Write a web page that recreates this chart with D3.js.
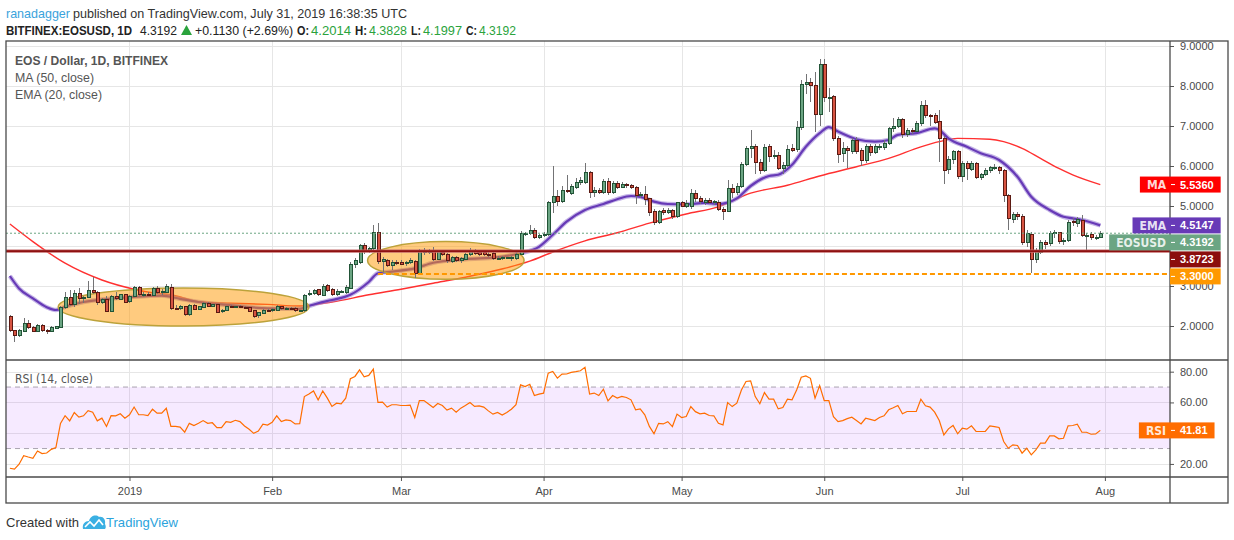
<!DOCTYPE html>
<html>
<head>
<meta charset="utf-8">
<script src="https://d3js.org/d3.v7.min.js"></script>
<style>
  body { margin: 0; background: #fff; }
  svg text { font-family: "Liberation Sans", Arial, sans-serif; }
  .narrow { font-family: "Liberation Sans Narrow", "Arial Narrow", "DejaVu Sans Condensed", sans-serif; }
</style>
</head>
<body>
<svg id="chart" width="1234" height="540"></svg>
<script>
// ---- values ----
// daily candles from 2018-12-06 to 2019-07-31, one line per month
var firstDay = "2018-12-06";

var opens = [
  2.23,1.88,1.76,1.87,2.07,1.96,1.87,2.02,1.88,1.86,1.95,1.97,2.47,2.72,2.54,2.82,2.68,2.72,2.90,2.85,2.59,2.66,2.36,2.75,2.67,2.78,
  2.61,2.75,2.97,2.77,2.80,2.76,2.95,2.83,2.84,2.97,2.45,2.43,2.48,2.28,2.52,2.42,2.47,2.57,2.50,2.53,2.36,2.40,2.48,2.47,2.49,2.46,2.46,2.40,2.26,2.32,2.40,
  2.39,2.40,2.50,2.44,2.45,2.45,2.38,2.38,2.78,2.82,2.92,2.77,3.02,2.92,2.78,2.86,2.84,2.94,3.55,3.58,4.01,3.88,3.94,4.34,3.61,3.63,3.52,3.60,
  3.58,3.56,3.60,3.61,3.32,3.86,3.84,3.86,3.67,3.84,3.78,3.61,3.72,3.64,3.66,3.78,3.90,3.83,3.83,3.80,3.82,3.69,3.69,3.71,3.68,3.68,3.80,4.32,4.32,4.40,4.22,
  4.26,4.28,5.08,5.24,5.11,5.40,5.32,5.46,5.58,5.60,5.84,5.33,5.40,5.33,5.62,5.33,5.57,5.47,5.54,5.52,5.47,5.26,5.30,5.18,4.86,4.59,4.90,4.83,4.90,4.73,
  5.08,4.98,5.00,5.32,5.19,5.10,5.14,5.08,5.10,4.92,4.86,5.44,5.33,5.50,6.03,6.44,6.50,6.08,5.88,6.48,6.27,6.27,5.94,6.02,6.44,6.42,6.97,8.05,8.09,8.02,7.30,
  8.54,7.72,7.73,6.69,6.32,6.43,6.37,6.65,6.40,6.13,6.48,6.34,6.48,6.47,6.57,6.93,7.00,7.17,6.78,6.90,6.86,7.07,7.52,7.27,7.27,7.12,6.69,5.92,6.17,6.36,
  5.75,6.07,5.92,6.07,5.72,5.78,5.88,5.97,5.97,5.88,5.26,4.67,4.80,4.75,4.09,4.30,3.67,3.84,4.09,4.07,4.33,4.33,4.11,4.15,4.62,4.57,4.65,4.26,4.29,4.20,4.2014
];
var highs = [
  2.27,1.91,1.92,2.20,2.16,1.99,2.06,2.04,1.92,1.99,2.01,2.50,2.84,2.90,2.90,2.96,2.76,3.12,3.22,2.88,2.70,2.76,2.78,2.84,2.80,2.80,
  2.77,2.99,2.99,2.84,2.86,2.98,2.99,2.92,3.05,3.05,2.52,2.52,2.50,2.56,2.55,2.50,2.60,2.59,2.56,2.55,2.43,2.50,2.52,2.51,2.52,2.50,2.48,2.41,2.36,2.43,2.42,
  2.44,2.52,2.51,2.47,2.47,2.47,2.41,2.80,2.90,2.92,2.93,3.05,3.06,2.94,2.92,2.90,3.02,3.60,3.70,4.05,4.08,3.98,4.52,4.58,3.72,3.68,3.64,3.66,
  3.65,3.62,3.70,3.64,3.92,3.95,3.92,3.98,3.90,3.88,3.82,3.76,3.75,3.72,3.82,3.94,3.92,3.88,3.86,3.84,3.84,3.74,3.74,3.73,3.74,3.84,4.38,4.36,4.52,4.44,4.30,
  4.34,5.12,6.00,5.40,5.50,5.78,5.56,5.70,5.72,6.07,5.88,5.48,5.46,5.68,5.70,5.62,5.62,5.60,5.58,5.56,5.50,5.36,5.50,5.20,4.92,4.90,4.94,4.94,4.92,5.10,
  5.12,5.14,5.42,5.40,5.24,5.20,5.20,5.16,5.14,4.98,5.66,5.56,5.58,6.10,6.50,6.90,6.56,6.18,6.54,6.54,6.40,6.36,6.10,6.52,6.55,7.12,8.15,8.30,8.20,8.35,8.67,
  8.67,7.95,7.78,6.76,6.60,6.50,6.70,6.72,6.44,6.55,6.56,6.55,6.56,6.65,6.98,7.20,7.22,7.20,6.95,6.96,7.12,7.62,7.65,7.30,7.32,7.40,6.75,6.24,6.40,6.40,
  6.12,6.12,6.12,6.10,5.82,5.95,6.00,6.04,6.00,5.92,5.30,4.86,4.84,4.80,4.40,4.34,3.96,4.16,4.14,4.38,4.40,4.36,4.20,4.64,4.70,4.72,4.78,4.32,4.34,4.28,4.3828
];
var lows = [
  1.85,1.60,1.72,1.85,1.92,1.84,1.85,1.86,1.80,1.84,1.93,1.95,2.42,2.50,2.48,2.55,2.58,2.70,2.80,2.52,2.55,2.34,2.34,2.66,2.64,2.57,
  2.58,2.72,2.76,2.72,2.74,2.74,2.80,2.78,2.82,2.40,2.40,2.40,2.26,2.26,2.40,2.40,2.44,2.47,2.48,2.33,2.33,2.38,2.45,2.44,2.44,2.42,2.36,2.20,2.20,2.30,2.37,
  2.36,2.39,2.41,2.42,2.42,2.36,2.36,2.36,2.76,2.78,2.74,2.76,2.86,2.76,2.75,2.82,2.80,2.92,3.45,3.56,3.80,3.82,3.90,3.55,3.35,3.48,3.40,3.52,
  3.52,3.50,3.56,3.20,3.30,3.78,3.80,3.62,3.64,3.76,3.58,3.58,3.60,3.58,3.64,3.76,3.78,3.76,3.74,3.72,3.66,3.66,3.66,3.68,3.62,3.66,3.78,4.24,4.28,4.18,4.18,
  4.22,4.26,4.82,5.00,5.08,5.32,5.28,5.42,5.52,5.56,5.20,5.22,5.30,5.30,5.28,5.30,5.42,5.44,5.46,5.42,5.05,5.20,5.02,4.74,4.52,4.54,4.78,4.80,4.68,4.70,
  4.98,4.94,4.92,5.10,5.06,5.02,5.04,5.02,4.88,4.66,4.84,5.20,5.28,5.46,6.00,6.20,5.80,5.80,5.84,6.10,6.18,5.90,5.80,5.98,6.36,6.36,6.90,7.80,7.60,6.85,7.00,
  7.60,7.35,6.62,6.07,6.10,5.95,6.30,6.30,6.00,6.08,6.25,6.30,6.40,6.40,6.52,6.85,6.95,6.70,6.72,6.80,6.84,7.00,7.20,7.00,7.05,6.10,5.55,5.80,6.05,5.68,
  5.60,5.65,5.88,5.68,5.66,5.74,5.82,5.90,5.80,5.10,4.40,4.58,4.66,4.02,3.98,3.33,3.58,3.80,3.92,4.00,4.20,4.04,4.02,4.10,4.50,4.48,4.22,3.88,4.16,4.14,4.1997
];
var closes = [
  1.88,1.76,1.88,2.07,1.96,1.87,2.02,1.88,1.86,1.96,1.98,2.47,2.72,2.54,2.82,2.68,2.72,2.88,2.83,2.59,2.66,2.36,2.75,2.68,2.78,2.59,
  2.75,2.97,2.78,2.80,2.76,2.95,2.83,2.86,2.98,2.45,2.43,2.48,2.28,2.52,2.42,2.48,2.57,2.50,2.53,2.35,2.40,2.48,2.47,2.49,2.46,2.44,2.37,2.23,2.34,2.40,2.39,
  2.41,2.50,2.44,2.45,2.44,2.38,2.38,2.77,2.82,2.90,2.79,3.00,2.90,2.78,2.86,2.86,2.97,3.55,3.63,4.01,3.87,3.94,4.34,3.61,3.66,3.52,3.59,3.56,
  3.55,3.60,3.65,3.32,3.86,3.87,3.86,3.67,3.86,3.80,3.63,3.72,3.63,3.68,3.78,3.90,3.82,3.80,3.78,3.78,3.69,3.70,3.72,3.71,3.72,3.80,4.32,4.32,4.40,4.22,4.27,
  4.30,5.09,5.24,5.11,5.40,5.38,5.50,5.58,5.64,5.84,5.33,5.40,5.35,5.62,5.33,5.57,5.47,5.55,5.52,5.46,5.26,5.30,5.17,4.83,4.59,4.86,4.83,4.90,4.73,5.08,
  5.00,5.07,5.32,5.19,5.12,5.14,5.08,5.12,4.92,4.86,5.44,5.33,5.50,6.03,6.44,6.50,6.08,5.88,6.47,6.25,6.27,5.94,6.02,6.42,6.40,6.97,8.05,8.09,8.01,7.30,8.54,
  7.72,7.72,6.69,6.30,6.43,6.38,6.65,6.37,6.13,6.48,6.34,6.48,6.49,6.57,6.93,7.00,7.17,6.78,6.90,6.86,7.07,7.52,7.27,7.26,7.10,6.69,5.88,6.17,6.36,5.75,
  6.07,5.93,6.07,5.72,5.78,5.90,5.97,5.97,5.88,5.26,4.69,4.80,4.74,4.09,4.32,3.67,3.86,4.09,4.05,4.32,4.33,4.11,4.15,4.60,4.58,4.66,4.26,4.26,4.22,4.21,4.3192
];

// RSI (14, close), one value per candle
var rsiValues = [
  17.2,16.6,19.8,25.4,24.5,23.7,28.4,26.7,27.1,29.5,30.6,46.4,51.4,48.0,53.4,50.4,51.3,54.7,53.7,48.0,49.8,44.4,51.4,51.3,52.6,49.8,
  52.0,57.0,52.0,52.0,51.4,55.6,53.0,53.0,56.2,44.4,44.4,44.0,40.7,46.4,45.0,46.4,48.2,46.4,46.8,43.6,43.6,47.5,47.1,48.4,47.5,44.7,42.5,39.9,41.4,45.8,45.3,
  47.1,51.3,47.5,48.6,48.2,46.0,46.2,63.8,65.5,67.5,61.6,67.5,62.8,57.4,59.5,59.1,62.8,75.4,76.9,81.2,76.7,77.6,81.7,60.0,60.2,57.0,58.5,58.5,
  58.0,58.0,58.3,50.2,61.2,61.2,59.0,56.7,59.3,58.0,55.0,56.3,53.7,56.3,58.0,60.0,57.4,57.8,57.0,54.5,52.4,53.5,51.8,53.5,55.6,58.5,71.4,70.3,71.8,64.5,65.4,
  66.0,79.0,80.1,75.8,78.4,78.5,79.5,80.0,80.6,82.8,65.4,66.1,64.5,68.6,61.0,64.5,62.8,63.9,63.2,61.7,55.2,55.8,51.9,44.4,39.6,46.4,46.0,47.5,44.3,52.4,
  50.2,50.8,57.3,54.0,52.6,53.0,51.5,51.3,46.4,45.4,59.9,57.3,59.5,68.1,73.6,74.0,63.8,59.1,66.4,62.1,62.1,55.8,56.7,62.1,61.7,68.1,76.4,77.2,75.7,62.8,71.0,
  61.2,61.2,50.8,47.5,48.2,49.5,50.4,48.2,46.0,49.7,49.0,48.2,50.2,51.3,55.2,56.5,58.0,52.6,54.1,54.1,54.1,62.1,57.8,57.0,53.7,48.2,38.9,42.8,45.0,39.6,
  43.3,42.6,44.8,41.1,41.1,41.1,44.8,44.3,43.7,34.6,30.2,32.4,32.0,27.0,30.2,25.9,29.1,33.5,33.5,38.2,38.2,36.3,36.7,44.8,45.0,45.8,40.6,40.6,39.3,39.5,41.81
];

// MA (50, close) read at sample dates
var maDates = ["2018-12-06","2018-12-11","2018-12-18","2018-12-26","2019-01-02","2019-01-06","2019-01-10","2019-01-16",
  "2019-01-23","2019-01-31","2019-02-07","2019-02-14","2019-02-22","2019-03-01","2019-03-08","2019-03-15","2019-03-22",
  "2019-03-29","2019-04-03","2019-04-10","2019-04-17","2019-04-24","2019-05-02","2019-05-09","2019-05-16","2019-05-24",
  "2019-05-31","2019-06-08","2019-06-15","2019-06-22","2019-06-26","2019-06-30","2019-07-07","2019-07-10","2019-07-14",
  "2019-07-18","2019-07-22","2019-07-25","2019-07-31"];
var maValues = [4.55,4.11,3.57,3.15,2.92,2.83,2.78,2.61,
  2.57,2.54,2.50,2.60,2.78,2.92,3.07,3.22,3.40,
  3.62,3.85,4.13,4.33,4.57,4.80,4.98,5.32,5.52,
  5.75,5.98,6.19,6.48,6.61,6.69,6.67,6.61,6.44,
  6.19,5.94,5.78,5.536];

// EMA (20, close) read at sample dates
var emaDates = ["2018-12-06","2018-12-08","2018-12-11","2018-12-14","2018-12-16","2018-12-18","2018-12-22","2018-12-26",
  "2019-01-02","2019-01-08","2019-01-12","2019-01-16","2019-01-23","2019-01-31","2019-02-07","2019-02-09","2019-02-11",
  "2019-02-14","2019-02-18","2019-02-22","2019-02-24","2019-02-27","2019-03-04","2019-03-08","2019-03-15","2019-03-22",
  "2019-03-27","2019-03-31","2019-04-03","2019-04-06","2019-04-10","2019-04-14","2019-04-17","2019-04-20","2019-04-22",
  "2019-04-25","2019-04-28","2019-05-02","2019-05-06","2019-05-09","2019-05-13","2019-05-16","2019-05-20","2019-05-22",
  "2019-05-25","2019-05-28","2019-05-31","2019-06-02","2019-06-04","2019-06-08","2019-06-12","2019-06-15","2019-06-17",
  "2019-06-21","2019-06-25","2019-06-26","2019-06-28","2019-07-02","2019-07-05","2019-07-09","2019-07-13","2019-07-16",
  "2019-07-20","2019-07-23","2019-07-25","2019-07-27","2019-07-31"];
var emaValues = [3.25,2.94,2.69,2.47,2.40,2.48,2.60,2.66,
  2.73,2.76,2.68,2.60,2.52,2.44,2.43,2.50,2.57,
  2.65,2.78,3.10,3.32,3.36,3.44,3.58,3.67,3.72,
  3.82,3.98,4.28,4.61,4.90,5.05,5.17,5.25,5.23,
  5.11,5.05,5.04,5.08,5.05,5.19,5.50,5.75,5.78,
  6.03,6.48,6.82,6.97,6.86,6.67,6.61,6.65,6.78,
  6.82,6.94,6.90,6.69,6.48,6.32,6.15,5.73,5.23,
  4.90,4.73,4.69,4.65,4.5147];

// axes
var monthTicks = ["2019-01-01","2019-02-01","2019-03-01","2019-04-01","2019-05-01","2019-06-01","2019-07-01","2019-08-01"];
var monthLabels = ["2019","Feb","Mar","Apr","May","Jun","Jul","Aug"];
var priceTicks = [2,3,4,5,6,7,8,9];
var rsiTicks = [20,40,60,80];
var rsiBand = [30,70];

// drawings: two horizontal levels and two highlighted ranges
var resistanceLevel = 3.8723;
var supportLevel = 3.30;
var supportFrom = "2019-02-24";
var zoneFrom = ["2018-12-16T12:00:00Z","2019-02-21T18:00:00Z"];
var zoneTo   = ["2019-02-09T00:00:00Z","2019-03-27T18:00:00Z"];
var zoneLow  = [2.00, 3.17];
var zoneHigh = [2.95, 4.11];

// ---- layout ----
var left = 6, plotRight = 1170, frameRight = 1228;
var mainTop = 41, mainBottom = 360, rsiBottom = 477, axisBottom = 503;

var upFill = "#6ba583", upLine = "#225437", downFill = "#d75442", downLine = "#5b1a13";

var parseDay = d3.utcParse("%Y-%m-%d");
var start = parseDay(firstDay);
var bars = closes.map(function(c, i) {
  return { date: d3.utcDay.offset(start, i), o: opens[i], h: highs[i], l: lows[i], c: c, rsi: rsiValues[i] };
});
var maPts = maDates.map(function(d, i) { return { date: parseDay(d), v: maValues[i] }; });
var emaPts = emaDates.map(function(d, i) { return { date: parseDay(d), v: emaValues[i] }; });

var x = d3.scaleUtc()
  .domain([d3.isoParse("2018-12-05T03:47:00Z"), d3.isoParse("2019-08-15T03:36:00Z")])
  .range([left, plotRight]);
var y = d3.scaleLinear().domain([1.15, 9.125]).range([mainBottom, mainTop]);
var yr = d3.scaleLinear().domain([11.5, 87.6]).range([rsiBottom, mainBottom]);

var svg = d3.select("#chart");
svg.append("rect").attr("width", 1234).attr("height", 540).attr("fill", "#fff");

var defs = svg.append("defs");
defs.append("clipPath").attr("id", "clipMain").append("rect")
  .attr("x", left).attr("y", mainTop).attr("width", plotRight - left).attr("height", mainBottom - mainTop);
defs.append("clipPath").attr("id", "clipRsi").append("rect")
  .attr("x", left).attr("y", mainBottom).attr("width", plotRight - left).attr("height", rsiBottom - mainBottom);

// header
var head = svg.append("g").attr("class", "narrow").style("font-size", "13px");
head.append("text").attr("x", 6).attr("y", 18).attr("fill", "#3aa3dc")
  .attr("textLength", 64).attr("lengthAdjust", "spacingAndGlyphs").text("ranadagger");
head.append("text").attr("x", 73).attr("y", 18).attr("fill", "#333")
  .attr("textLength", 334).attr("lengthAdjust", "spacingAndGlyphs")
  .text("published on TradingView.com, July 31, 2019 16:38:35 UTC");

var line2 = [
  { t: "BITFINEX:EOSUSD, 1D", x: 6, w: 126, bold: true, c: "#222" },
  { t: "4.3192", x: 140, w: 37, bold: false, c: "#222" },
  { t: "+0.1130 (+2.69%)", x: 195, w: 98, bold: false, c: "#222" },
  { t: "O:", x: 297, w: 12, bold: true, c: "#222" },
  { t: "4.2014", x: 311, w: 40, bold: false, c: "#2aa33c" },
  { t: "H:", x: 355, w: 12, bold: true, c: "#222" },
  { t: "4.3828", x: 369, w: 38, bold: false, c: "#2aa33c" },
  { t: "L:", x: 411, w: 10, bold: true, c: "#222" },
  { t: "4.1997", x: 423, w: 39, bold: false, c: "#2aa33c" },
  { t: "C:", x: 466, w: 11, bold: true, c: "#222" },
  { t: "4.3192", x: 479, w: 37, bold: false, c: "#2aa33c" }
];
head.selectAll("text.l2").data(line2).enter().append("text")
  .attr("class", "l2")
  .attr("x", function(d) { return d.x; }).attr("y", 35)
  .attr("fill", function(d) { return d.c; })
  .attr("font-weight", function(d) { return d.bold ? "bold" : "normal"; })
  .style("font-size", "12.5px")
  .attr("textLength", function(d) { return d.w; }).attr("lengthAdjust", "spacingAndGlyphs")
  .text(function(d) { return d.t; });
head.append("path").attr("d", "M181,35 L186.5,25 L192,35 Z").attr("fill", "#2aa33c");

// grid
var monthDates = monthTicks.map(parseDay);
var grid = svg.append("g").attr("stroke", "#e6e6e6").attr("stroke-width", 1).attr("shape-rendering", "crispEdges");
grid.selectAll("line.v").data(monthDates).enter().append("line")
  .attr("x1", function(d) { return Math.round(x(d)) + 0.5; }).attr("x2", function(d) { return Math.round(x(d)) + 0.5; })
  .attr("y1", mainTop).attr("y2", rsiBottom);
grid.selectAll("line.h").data(priceTicks).enter().append("line")
  .attr("x1", left).attr("x2", plotRight)
  .attr("y1", function(d) { return Math.round(y(d)) + 0.5; }).attr("y2", function(d) { return Math.round(y(d)) + 0.5; });
grid.selectAll("line.r").data(rsiTicks).enter().append("line")
  .attr("x1", left).attr("x2", plotRight)
  .attr("y1", function(d) { return Math.round(yr(d)) + 0.5; }).attr("y2", function(d) { return Math.round(yr(d)) + 0.5; });

// RSI pane
var rsiG = svg.append("g").attr("clip-path", "url(#clipRsi)");
rsiG.append("rect").attr("x", left).attr("width", plotRight - left)
  .attr("y", yr(rsiBand[1])).attr("height", yr(rsiBand[0]) - yr(rsiBand[1]))
  .attr("fill", "#9915ff").attr("fill-opacity", 0.09);
rsiG.selectAll("line.band").data(rsiBand).enter().append("line")
  .attr("x1", left).attr("x2", plotRight)
  .attr("y1", function(d) { return yr(d); }).attr("y2", function(d) { return yr(d); })
  .attr("stroke", "#a9a3b0").attr("stroke-dasharray", "5,4");
rsiG.append("path").datum(bars)
  .attr("fill", "none").attr("stroke", "#ff6d00").attr("stroke-width", 1.2)
  .attr("d", d3.line().x(function(d) { return x(d.date); }).y(function(d) { return yr(d.rsi); }));
svg.append("text").attr("class", "narrow").attr("x", 15).attr("y", 383)
  .attr("fill", "#555").style("font-size", "13px")
  .attr("textLength", 78).attr("lengthAdjust", "spacingAndGlyphs").text("RSI (14, close)");

// main pane
var main = svg.append("g").attr("clip-path", "url(#clipMain)");
var avgLine = d3.line().curve(d3.curveMonotoneX)
  .x(function(d) { return x(d.date); }).y(function(d) { return y(d.v); });
main.append("path").datum(maPts).attr("fill", "none")
  .attr("stroke", "#ff3030").attr("stroke-width", 1.4).attr("d", avgLine);
main.append("path").datum(emaPts).attr("fill", "none")
  .attr("stroke", "#9c82d6").attr("stroke-opacity", 0.6).attr("stroke-width", 4.5).attr("d", avgLine);
main.append("path").datum(emaPts).attr("fill", "none")
  .attr("stroke", "#673ab7").attr("stroke-width", 2.2).attr("d", avgLine);

// highlighted ranges
var zones = zoneFrom.map(function(f, i) {
  return { x0: x(d3.isoParse(f)), x1: x(d3.isoParse(zoneTo[i])), y0: y(zoneHigh[i]), y1: y(zoneLow[i]) };
});
main.selectAll("ellipse.zone").data(zones).enter().append("ellipse")
  .attr("cx", function(d) { return (d.x0 + d.x1) / 2; })
  .attr("cy", function(d) { return (d.y0 + d.y1) / 2; })
  .attr("rx", function(d) { return (d.x1 - d.x0) / 2; })
  .attr("ry", function(d) { return (d.y1 - d.y0) / 2; })
  .attr("fill", "#ff9800").attr("fill-opacity", 0.5)
  .attr("stroke", "#bca23a").attr("stroke-width", 1.5);

// candles
var candle = main.selectAll("g.bar").data(bars).enter().append("g")
  .attr("class", "bar").attr("shape-rendering", "crispEdges");
candle.append("line")
  .attr("x1", function(d) { return Math.round(x(d.date)) + 0.5; })
  .attr("x2", function(d) { return Math.round(x(d.date)) + 0.5; })
  .attr("y1", function(d) { return y(d.h); }).attr("y2", function(d) { return y(d.l); })
  .attr("stroke", "#737375");
candle.append("rect")
  .attr("x", function(d) { return Math.round(x(d.date)) - 1; })
  .attr("width", 3)
  .attr("y", function(d) { return y(Math.max(d.o, d.c)); })
  .attr("height", function(d) { return Math.max(1, y(Math.min(d.o, d.c)) - y(Math.max(d.o, d.c))); })
  .attr("fill", function(d) { return d.c >= d.o ? upFill : downFill; })
  .attr("stroke", function(d) { return d.c >= d.o ? upLine : downLine; })
  .attr("stroke-width", 1);

// levels
var lastBar = bars[bars.length - 1];
main.append("line").attr("x1", left).attr("x2", plotRight)
  .attr("y1", y(lastBar.c)).attr("y2", y(lastBar.c))
  .attr("stroke", upFill).attr("stroke-dasharray", "2,2").attr("stroke-width", 1);
main.append("line").attr("x1", left).attr("x2", plotRight)
  .attr("y1", y(resistanceLevel)).attr("y2", y(resistanceLevel))
  .attr("stroke", "#c46a6a").attr("stroke-width", 3.4);
main.append("line").attr("x1", left).attr("x2", plotRight)
  .attr("y1", y(resistanceLevel)).attr("y2", y(resistanceLevel))
  .attr("stroke", "#8e1111").attr("stroke-width", 1.7);
main.append("line").attr("x1", x(parseDay(supportFrom))).attr("x2", plotRight)
  .attr("y1", y(supportLevel)).attr("y2", y(supportLevel))
  .attr("stroke", "#ff9800").attr("stroke-width", 2).attr("stroke-dasharray", "5,3");

// legend
var legend = svg.append("g").attr("class", "narrow").style("font-size", "13px").attr("fill", "#555");
legend.append("text").attr("x", 15).attr("y", 65).attr("font-weight", "bold")
  .attr("textLength", 153).attr("lengthAdjust", "spacingAndGlyphs").text("EOS / Dollar, 1D, BITFINEX");
legend.append("text").attr("x", 15).attr("y", 82)
  .attr("textLength", 79).attr("lengthAdjust", "spacingAndGlyphs").text("MA (50, close)");
legend.append("text").attr("x", 15).attr("y", 99)
  .attr("textLength", 87).attr("lengthAdjust", "spacingAndGlyphs").text("EMA (20, close)");

// axes
function styleAxis(g) {
  g.select(".domain").remove();
  g.selectAll(".tick line").attr("stroke", "#555");
  g.selectAll(".tick text").attr("fill", "#4a4a4a").style("font-size", "11px");
}
svg.append("g").attr("transform", "translate(0," + rsiBottom + ")")
  .call(d3.axisBottom(x).tickValues(monthDates)
    .tickFormat(function(d, i) { return monthLabels[i]; }).tickSize(4).tickPadding(6))
  .call(styleAxis);
var priceAxis = svg.append("g").attr("transform", "translate(" + plotRight + ",0)")
  .call(d3.axisRight(y).tickValues(priceTicks).tickFormat(d3.format(".4f")).tickSize(4).tickPadding(6))
  .call(styleAxis);
var rsiAxis = svg.append("g").attr("transform", "translate(" + plotRight + ",0)")
  .call(d3.axisRight(yr).tickValues(rsiTicks).tickFormat(d3.format(".2f")).tickSize(4).tickPadding(6))
  .call(styleAxis);

// frame
var frame = svg.append("g").attr("stroke", "#4a4a4a").attr("stroke-width", 1.3).attr("fill", "none");
frame.append("rect").attr("x", left).attr("y", mainTop)
  .attr("width", frameRight - left).attr("height", axisBottom - mainTop);
frame.append("line").attr("x1", plotRight).attr("x2", plotRight).attr("y1", mainTop).attr("y2", axisBottom);
frame.append("line").attr("x1", left).attr("x2", frameRight).attr("y1", mainBottom).attr("y2", mainBottom);
frame.append("line").attr("x1", left).attr("x2", frameRight).attr("y1", rsiBottom).attr("y2", rsiBottom);

// price tags on the right axis (stacked so they do not overlap, like TradingView)
var fmt4 = d3.format(".4f");
var mainTags = [
  { y: y(maValues[maValues.length - 1]), name: "MA", text: fmt4(maValues[maValues.length - 1]), color: "#ff0000" },
  { y: y(emaValues[emaValues.length - 1]), name: "EMA", text: fmt4(emaValues[emaValues.length - 1]), color: "#673ab7" },
  { y: y(lastBar.c), name: "EOSUSD", text: fmt4(lastBar.c), color: upFill },
  { y: y(resistanceLevel), name: null, text: fmt4(resistanceLevel), color: "#8b0d0d" },
  { y: y(supportLevel), name: null, text: fmt4(supportLevel), color: "#ff9800" }
].sort(function(a, b) { return a.y - b.y; });
var prev = -1e9;
mainTags.forEach(function(t) { t.pos = Math.max(t.y, prev + 17); prev = t.pos; });
var rsiTags = [{ y: yr(lastBar.rsi), pos: yr(lastBar.rsi), name: "RSI", text: d3.format(".2f")(lastBar.rsi), color: "#ff6d00" }];

function tag(t) {
  var g = svg.append("g");
  var val = g.append("text").attr("x", plotRight + 10).attr("y", t.pos).attr("dy", "0.36em")
    .attr("fill", "#fff").attr("font-weight", "bold").style("font-size", "11px").text(t.text);
  var right = plotRight + 10 + val.node().getComputedTextLength() + 7;
  var l = plotRight;
  if (t.name) {
    var nm = g.append("text").attr("class", "narrow").attr("x", plotRight - 4).attr("y", t.pos).attr("dy", "0.36em")
      .attr("text-anchor", "end").attr("fill", "#fff").attr("fill-opacity", 0.85)
      .attr("font-weight", "bold").style("font-size", "12px").text(t.name);
    l = plotRight - 4 - nm.node().getComputedTextLength() - 7;
  }
  g.insert("rect", "text").attr("x", l).attr("y", t.pos - 8).attr("width", right - l).attr("height", 16).attr("fill", t.color);
  g.append("line").attr("x1", plotRight + 1).attr("x2", plotRight + 5).attr("y1", t.pos).attr("y2", t.pos)
    .attr("stroke", "#fff").attr("stroke-width", 1);
}
// axis labels hidden behind a tag are not drawn, as in the original
function hideCovered(axisG, scale, tags) {
  axisG.selectAll(".tick").filter(function(d) {
    return tags.some(function(t) { return Math.abs(scale(d) - t.pos) < 9; });
  }).select("text").remove();
}
hideCovered(priceAxis, y, mainTags);
hideCovered(rsiAxis, yr, rsiTags);
mainTags.forEach(tag);
rsiTags.forEach(tag);

// footer
var foot = svg.append("g").attr("class", "narrow").style("font-size", "13px");
foot.append("text").attr("x", 6).attr("y", 527).attr("fill", "#333")
  .attr("textLength", 73).attr("lengthAdjust", "spacingAndGlyphs").text("Created with");
var logo = foot.append("g").attr("transform", "translate(82,513)");
logo.append("path")
  .attr("d", "M1,16 C0,11 3,8 7,8 C8,3 14,1 17,4 C21,3 24,7 23,11 C24,13 24,15 23,16 Z")
  .attr("fill", "#3bb0e3");
logo.append("path").attr("d", "M3,14 L8,9 L12,13 L17,7 L21,12")
  .attr("fill", "none").attr("stroke", "#fff").attr("stroke-width", 1.6);
foot.append("text").attr("x", 106).attr("y", 527).attr("fill", "#2ba3dc")
  .attr("textLength", 72).attr("lengthAdjust", "spacingAndGlyphs").text("TradingView");
</script>
</body>
</html>
